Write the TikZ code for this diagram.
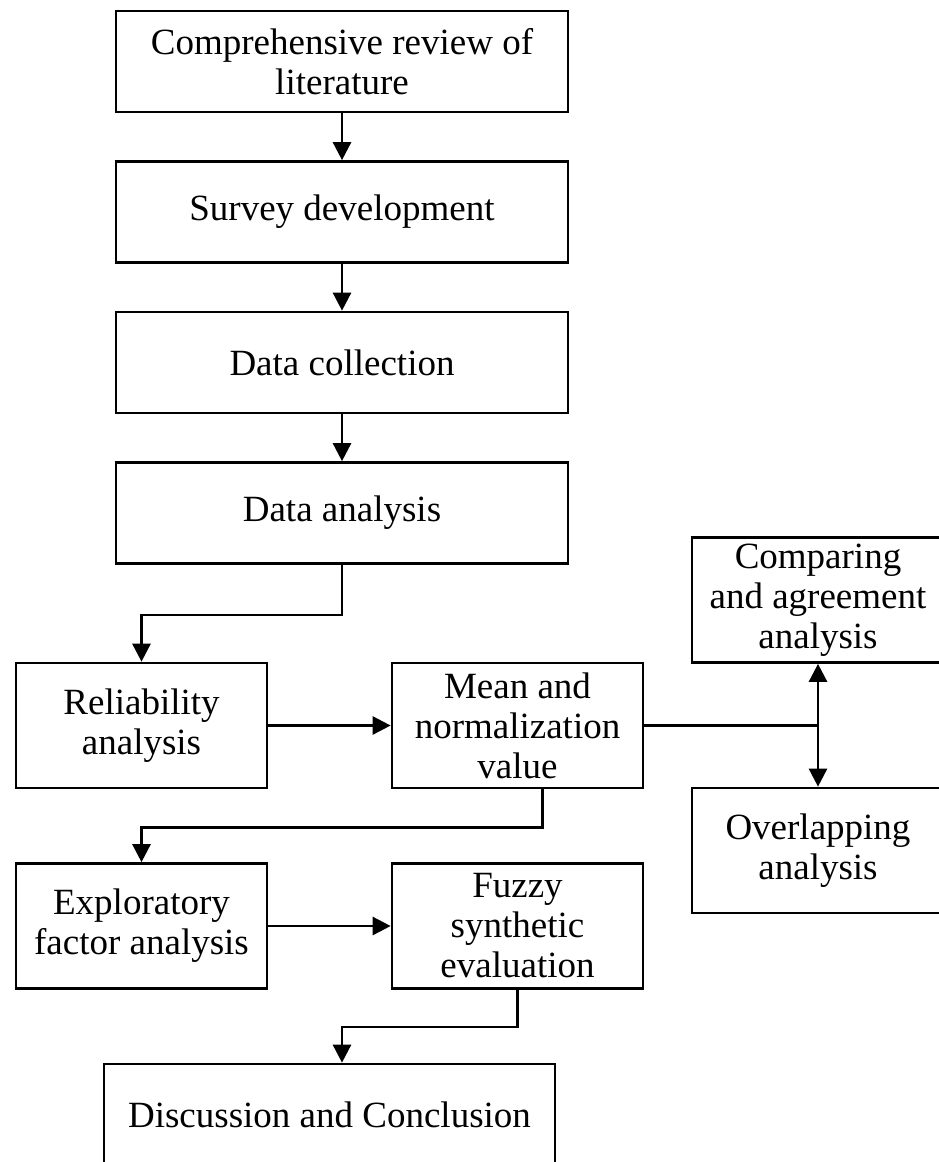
\documentclass[tikz,border=0pt]{standalone}
\usepackage{fontspec}
\setmainfont{Liberation Serif}
\usepackage{tikz}
\usetikzlibrary{arrows.meta,calc}

\begin{document}
\begin{tikzpicture}[x=1pt,y=-1pt,line width=2.7pt,
  font=\fontsize{37}{40}\selectfont,
  wide/.style={draw,inner sep=0pt,minimum width=452pt,minimum height=101pt,align=center},
  small/.style={draw,inner sep=0pt,minimum width=251pt,minimum height=125pt,align=center},
  flow/.style={-{Triangle[length=18pt,width=18pt]}}]
\useasboundingbox (0,0) rectangle (939,1162);
\clip (0,0) rectangle (939,1162);
\node[wide]  (lit)    at (342,61.5)  {Comprehensive review of\\literature};
\node[wide]  (survey) at (342,212)   {Survey development};
\node[wide]  (coll)   at (342,362.5) {Data collection};
\node[wide]  (ana)    at (342,513)   {Data analysis};
\node[small] (rel)    at (141.5,725.5) {Reliability\\analysis};
\node[small] (mean)   at (517.5,725.5) {Mean and\\normalization\\value};
\node[small,minimum width=252pt] (comp) at (818,600)   {Comparing\\and agreement\\analysis};
\node[small,minimum width=252pt] (over) at (818,850.5) {Overlapping\\analysis};
\node[small] (efa)    at (141.5,926) {Exploratory\\factor analysis};
\node[small] (fuzzy)  at (517.5,926) {Fuzzy\\synthetic\\evaluation};
\node[wide,minimum width=451pt] (disc) at (329.5,1114.5) {Discussion and Conclusion};
\coordinate (split) at (comp.south |- mean.east);
\draw[flow] (lit) -- (survey);
\draw[flow] (survey) -- (coll);
\draw[flow] (coll) -- (ana);
\draw[flow] (ana.south) -- ++(0,50) -| (rel.north);
\draw[flow] (rel) -- (mean);
\draw (mean.east) -- (split);
\draw[flow] (split) -- (comp.south);
\draw[flow] (split) -- (over.north);
\draw[flow] ([xshift=25pt]mean.south) -- ++(0,38) -| (efa.north);
\draw[flow] (efa) -- (fuzzy);
\draw[flow] (fuzzy.south) -- ++(0,37) -| ([xshift=12.5pt]disc.north);
\end{tikzpicture}
\end{document}
